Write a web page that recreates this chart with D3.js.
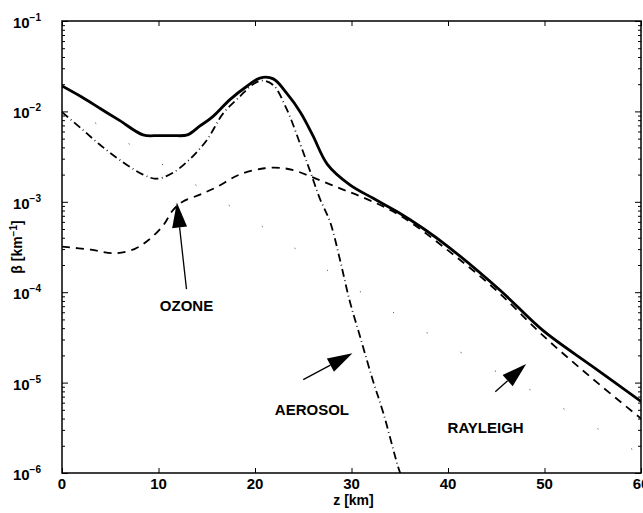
<!DOCTYPE html>
<html>
<head>
<meta charset="utf-8">
<script src="https://cdn.jsdelivr.net/npm/d3@7"></script>
<style>
  body { margin: 0; background: #fff; }
  text { font-family: "Liberation Sans", Arial, sans-serif; fill: #000; }
</style>
</head>
<body>
<div id="chart"></div>
<script>
// altitude grid and extinction values
var zTotal = [0, 2, 4, 6, 8.4, 10, 11.5, 13, 14.3, 15.6, 17.4, 19.2, 20.5, 21.9, 23.3, 24.7, 26, 27.5, 29.8, 32.2, 34.7, 37.4, 40, 45.4, 49.8, 55, 60];
var betaTotal = [0.0191, 0.0145, 0.0107, 0.0079, 0.0055, 0.0054, 0.0054, 0.0055, 0.0069, 0.0087, 0.0135, 0.0191, 0.0234, 0.0229, 0.0158, 0.0098, 0.0054, 0.0026, 0.00155, 0.0011, 0.00078, 0.00051, 0.00032, 0.000105, 0.000038, 0.000015, 0.0000062];

var zAerosol = [0, 1.9, 3.9, 6, 8.4, 9.8, 11.5, 13.3, 15, 16.7, 18.4, 19.8, 20.8, 21.9, 23.3, 24.7, 25.7, 26.7, 27.8, 28.8, 29.8, 30.9, 32.2, 33.3, 34.8, 35.2];
var betaAerosol = [0.0098, 0.0066, 0.0043, 0.0029, 0.0020, 0.0018, 0.0021, 0.0030, 0.0048, 0.0095, 0.0145, 0.020, 0.0219, 0.0195, 0.0105, 0.0043, 0.0022, 0.0011, 0.00059, 0.00023, 0.000081, 0.000032, 0.0000107, 0.0000046, 0.0000012, 0.0000009];

var zOzone = [0, 3, 5.5, 7.5, 9, 10.5, 11.5, 12.5, 14.3, 16, 18.4, 21, 23, 24.5, 26, 28.8, 31.6, 35, 40, 45, 50, 55, 60];
var betaOzone = [0.00032, 0.000295, 0.00027, 0.00030, 0.00038, 0.00055, 0.00081, 0.0010, 0.0012, 0.00145, 0.0020, 0.00235, 0.00235, 0.00215, 0.00186, 0.00141, 0.00107, 0.00071, 0.00029, 0.000105, 0.000032, 0.000011, 0.000004];

var zRayleigh = [0, 10, 20, 30, 40, 50, 60];
var betaRayleigh = [0.0126, 0.00275, 0.00060, 0.000117, 0.000026, 0.0000068, 0.0000016];

var xTicks = [0, 10, 20, 30, 40, 50, 60];
var yExponents = [-1, -2, -3, -4, -5, -6];

// annotation labels with arrow tail / tip in data units (z, beta)
var labels = ["OZONE", "AEROSOL", "RAYLEIGH"];
var labelAt = [[12.9, 0.000069], [25.9, 0.0000049], [43.9, 0.0000031]];
var arrowFrom = [[12.9, 0.000108], [25, 0.0000108], [44.9, 0.0000079]];
var arrowTo = [[11.9, 0.00098], [30.1, 0.0000211], [48.1, 0.0000161]];

var width = 643, height = 513;
var marginTop = 21, marginBottom = 40, marginLeft = 62, marginRight = 2;

var svg = d3.select("#chart").append("svg")
  .attr("width", width)
  .attr("height", height);

var x = d3.scaleLinear().domain([0, 60]).range([marginLeft, width - marginRight]);
var y = d3.scaleLog().domain([1e-6, 1e-1]).range([height - marginBottom, marginTop]);

// clip so the aerosol tail stops at the frame
svg.append("defs").append("clipPath").attr("id", "plot-clip")
  .append("rect")
  .attr("x", marginLeft).attr("y", marginTop)
  .attr("width", width - marginRight - marginLeft)
  .attr("height", height - marginBottom - marginTop);

// minor ticks for the log axis
var minor = [];
yExponents.forEach(function (e) {
  if (e === -1) return;
  for (var k = 2; k <= 9; k++) minor.push(k * Math.pow(10, e));
});
var major = yExponents.map(function (e) { return Math.pow(10, e); });

function noDomain(g) { g.select(".domain").remove(); }

// left + right axes (ticks pointing inside)
svg.append("g")
  .attr("transform", `translate(${marginLeft},0)`)
  .call(d3.axisRight(y).tickValues(minor).tickSize(3).tickFormat(""))
  .call(noDomain);
svg.append("g")
  .attr("transform", `translate(${marginLeft},0)`)
  .call(d3.axisRight(y).tickValues(major).tickSize(6).tickFormat(""))
  .call(noDomain);
svg.append("g")
  .attr("transform", `translate(${width - marginRight},0)`)
  .call(d3.axisLeft(y).tickValues(minor).tickSize(3).tickFormat(""))
  .call(noDomain);
svg.append("g")
  .attr("transform", `translate(${width - marginRight},0)`)
  .call(d3.axisLeft(y).tickValues(major).tickSize(6).tickFormat(""))
  .call(noDomain);

// bottom + top axes
svg.append("g")
  .attr("transform", `translate(0,${height - marginBottom})`)
  .call(d3.axisTop(x).tickValues(xTicks).tickSize(5).tickFormat(""))
  .call(noDomain);
svg.append("g")
  .attr("transform", `translate(0,${marginTop})`)
  .call(d3.axisBottom(x).tickValues(xTicks).tickSize(5).tickFormat(""))
  .call(noDomain);

// frame
svg.append("rect")
  .attr("x", marginLeft).attr("y", marginTop)
  .attr("width", width - marginRight - marginLeft)
  .attr("height", height - marginBottom - marginTop)
  .attr("fill", "none")
  .attr("stroke", "#000")
  .attr("stroke-width", 1.5);

// x tick labels
svg.append("g").selectAll("text")
  .data(xTicks)
  .join("text")
  .attr("x", function (d) { return x(d); })
  .attr("y", height - marginBottom + 16)
  .attr("text-anchor", "middle")
  .attr("font-size", 15)
  .attr("font-weight", "bold")
  .text(function (d) { return d; });

// y tick labels 10^e
var yl = svg.append("g").selectAll("text")
  .data(yExponents)
  .join("text")
  .attr("x", marginLeft - 21)
  .attr("y", function (d) { return y(Math.pow(10, d)) + 7; })
  .attr("text-anchor", "end")
  .attr("font-size", 15)
  .attr("font-weight", "bold");
yl.append("tspan").text("10");
yl.append("tspan")
  .attr("dy", -7)
  .attr("font-size", 10)
  .text(function (d) { return "\u2212" + (-d); });

// axis titles
svg.append("text")
  .attr("x", x(30) + 2)
  .attr("y", height - 8)
  .attr("text-anchor", "middle")
  .attr("font-size", 14)
  .attr("font-weight", "bold")
  .text("z [km]");

var yt = svg.append("text")
  .attr("transform", `translate(22,${(y(1e-3) + y(1e-4)) / 2}) rotate(-90)`)
  .attr("text-anchor", "middle")
  .attr("font-size", 14)
  .attr("font-weight", "bold");
yt.append("tspan").text("\u03b2 [km");
yt.append("tspan").attr("dy", -5).attr("font-size", 10).text("\u22121");
yt.append("tspan").attr("dy", 5).text("]");

// curves
var line = d3.line()
  .curve(d3.curveCatmullRom.alpha(0.5))
  .x(function (d) { return x(d[0]); })
  .y(function (d) { return y(d[1]); });

var plot = svg.append("g").attr("clip-path", "url(#plot-clip)");

function pairs(zs, bs) { return zs.map(function (z, i) { return [z, bs[i]]; }); }

// rayleigh is a faint dotted line that barely survives in the figure
plot.append("path")
  .attr("d", line(pairs(zRayleigh, betaRayleigh)))
  .attr("fill", "none")
  .attr("stroke", "#555")
  .attr("stroke-width", 1)
  .attr("stroke-dasharray", "1.2,38");

plot.append("path")
  .attr("d", line(pairs(zOzone, betaOzone)))
  .attr("fill", "none")
  .attr("stroke", "#000")
  .attr("stroke-width", 1.8)
  .attr("stroke-dasharray", "8,6");

plot.append("path")
  .attr("d", line(pairs(zAerosol, betaAerosol)))
  .attr("fill", "none")
  .attr("stroke", "#000")
  .attr("stroke-width", 1.8)
  .attr("stroke-dasharray", "8,3.5,0.8,3.5");

plot.append("path")
  .attr("d", line(pairs(zTotal, betaTotal)))
  .attr("fill", "none")
  .attr("stroke", "#000")
  .attr("stroke-width", 2.8);

// annotations with filled arrow heads
labels.forEach(function (t, i) {
  var x0 = x(arrowFrom[i][0]), y0 = y(arrowFrom[i][1]);
  var x1 = x(arrowTo[i][0]), y1 = y(arrowTo[i][1]);
  var ang = Math.atan2(y1 - y0, x1 - x0);
  var len = 25, half = 7.5;
  var bx = x1 - len * Math.cos(ang), by = y1 - len * Math.sin(ang);
  svg.append("line")
    .attr("x1", x0).attr("y1", y0)
    .attr("x2", bx).attr("y2", by)
    .attr("stroke", "#000")
    .attr("stroke-width", 1.3);
  var px = -Math.sin(ang) * half, py = Math.cos(ang) * half;
  svg.append("path")
    .attr("d", `M${x1},${y1}L${bx + px},${by + py}L${bx - px},${by - py}Z`)
    .attr("fill", "#000");
  svg.append("text")
    .attr("x", x(labelAt[i][0]))
    .attr("y", y(labelAt[i][1]))
    .attr("text-anchor", "middle")
    .attr("dominant-baseline", "middle")
    .attr("font-size", 15)
    .attr("font-weight", "bold")
    .text(t);
});
</script>
</body>
</html>
